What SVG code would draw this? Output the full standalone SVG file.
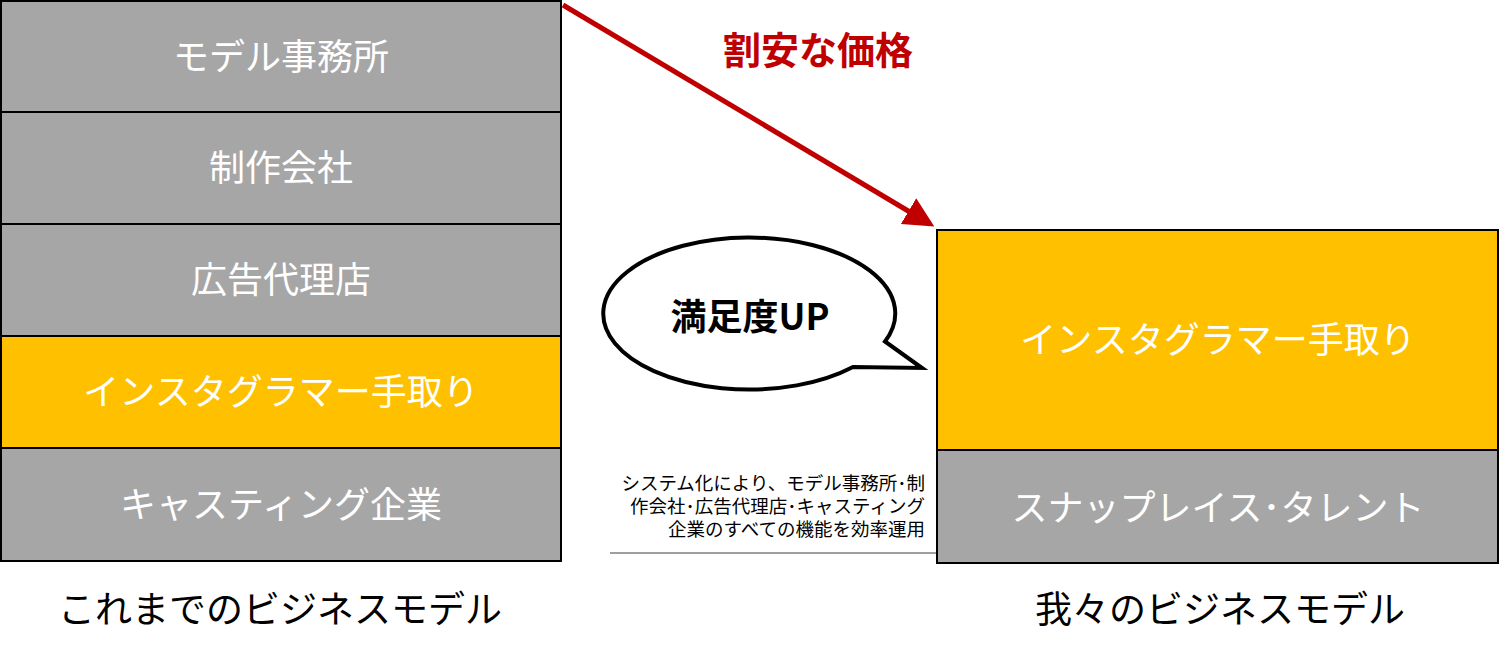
<svg xmlns="http://www.w3.org/2000/svg" width="1500" height="655" viewBox="0 0 1500 655">
<style>
.g{fill:#A6A6A6;stroke:#000;stroke-width:2}
.y{fill:#FFC000;stroke:#000;stroke-width:2}
.t{font-family:"Noto Sans CJK JP","Noto Sans",sans-serif;font-size:36px;fill:#fff;text-anchor:middle}
.lb{font-family:"Noto Sans CJK JP","Noto Sans",sans-serif;font-size:37px;fill:#000;text-anchor:middle}
.sm{font-family:"Noto Sans CJK JP","Noto Sans",sans-serif;font-size:18.5px;fill:#000;text-anchor:end}
</style>
<defs>
<marker id="ah" markerWidth="6" markerHeight="6" refX="5" refY="3" orient="auto" markerUnits="strokeWidth">
<path d="M0,0 L6,3 L0,6 Z" fill="#C00000"/>
</marker>
</defs>
<rect width="1500" height="655" fill="#fff"/>
<g id="old-model">
<g id="n1"><rect class="g" x="1" y="1" width="560" height="111"/><text class="t" x="281" y="70">モデル事務所</text></g>
<g id="n2"><rect class="g" x="1" y="112" width="560" height="112"/><text class="t" x="281" y="181">制作会社</text></g>
<g id="n3"><rect class="g" x="1" y="224" width="560" height="112"/><text class="t" x="281" y="293">広告代理店</text></g>
<g id="n4"><rect class="y" x="1" y="336" width="560" height="112"/><text class="t" x="281" y="405">インスタグラマー手取り</text></g>
<g id="n5"><rect class="g" x="1" y="448" width="560" height="113"/><text class="t" x="281" y="518">キャスティング企業</text></g>
<g id="old-label"><text class="lb" x="280" y="623">これまでのビジネスモデル</text></g>
</g>
<g id="new-model">
<g id="m1"><rect class="y" x="937" y="230" width="561" height="220"/><text class="t" x="1218" y="353">インスタグラマー手取り</text></g>
<g id="m2"><rect class="g" x="937" y="450" width="561" height="113"/><text class="t" x="1218" y="521">スナップレイス･タレント</text></g>
<g id="new-label"><text class="lb" x="1220" y="623">我々のビジネスモデル</text></g>
</g>
<g id="connectors">
<line x1="563" y1="5" x2="930" y2="224" stroke="#C00000" stroke-width="5" marker-end="url(#ah)"/>
</g>
<g id="price-label"><text x="818" y="64" font-family="'Noto Sans CJK JP','Noto Sans',sans-serif" font-size="38" font-weight="bold" fill="#C00000" text-anchor="middle">割安な価格</text></g>
<g id="bubble">
<path d="M885,341.5 A146,76 0 1 0 853,367 L922,368 Z" fill="#fff" stroke="#000" stroke-width="4" stroke-linejoin="miter"/>
<text x="750" y="330" font-family="'Noto Sans CJK JP','Noto Sans',sans-serif" font-size="36" font-weight="bold" fill="#000" text-anchor="middle">満足度UP</text>
</g>
<g id="note">
<text class="sm" x="925" y="490">システム化により、モデル事務所･制</text>
<text class="sm" x="925" y="513">作会社･広告代理店･キャスティング</text>
<text class="sm" x="925" y="536">企業のすべての機能を効率運用</text>
<line x1="610" y1="553" x2="936" y2="553" stroke="#7F7F7F" stroke-width="1.5"/>
</g>
</svg>
